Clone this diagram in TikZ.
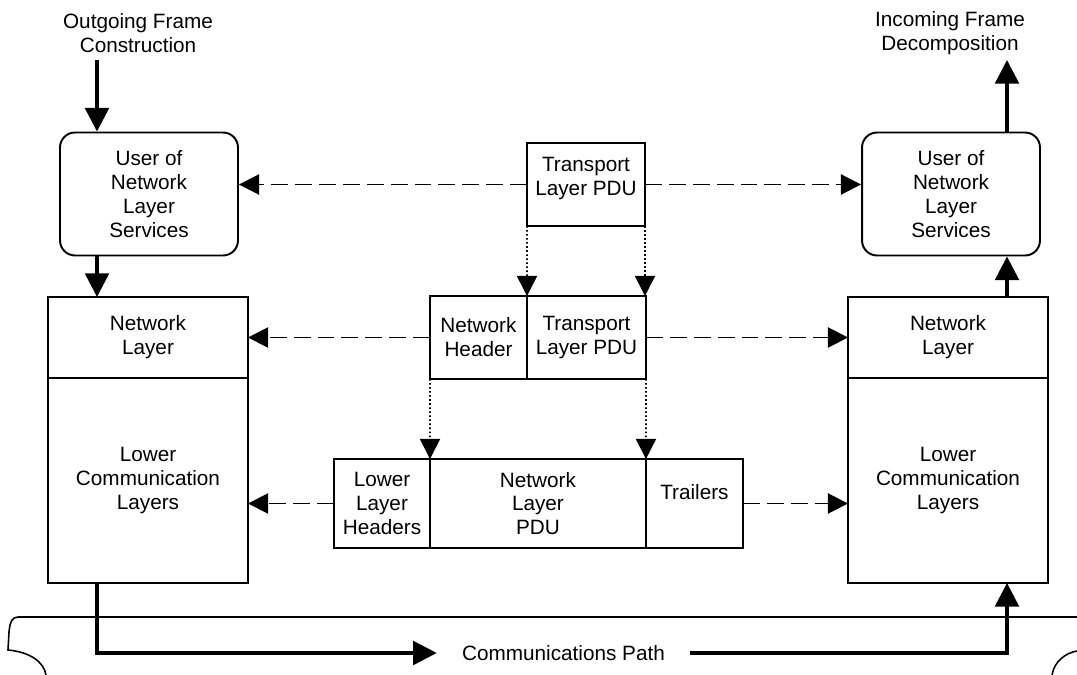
\documentclass[tikz,border=0pt]{standalone}
\usepackage{fontspec}
\setmainfont{Liberation Sans}
\usetikzlibrary{positioning,arrows.meta}
\tikzset{
  userbox/.style   = {rectangle, rounded corners=0.3cm, draw, line width=1.1pt,
                      minimum width=3.56cm, minimum height=2.46cm, align=center},
  layerbox/.style  = {rectangle, draw, line width=1.1pt, outer sep=0pt,
                      minimum width=4cm, align=center},
  pdubox/.style    = {rectangle, draw, line width=1.1pt, outer sep=0pt, inner sep=1pt,
                      minimum height=1.66cm, align=center},
  frmbox/.style    = {pdubox, minimum height=1.78cm},
  bigarrow/.style  = {-{Triangle[length=13.5pt,width=13.5pt]}, line width=2pt},
  dasharrow/.style = {-{Triangle[length=11.5pt,width=11.5pt]}, line width=1.1pt,
                      dash pattern=on 9.6pt off 4pt},
  dotarrow/.style  = {-{Triangle[length=11.5pt,width=11.5pt]}, line width=0.9pt,
                      dash pattern=on 0.9pt off 1.4pt},
  pipeline/.style  = {line width=0.9pt}
}

\begin{document}
\begin{tikzpicture}[x=0.02cm, y=-0.02cm, font=\fontsize{11.8}{13.6}\selectfont]
  \useasboundingbox (0,0) rectangle (1077,675);
  % ---- top labels ----
  \node[align=center] (outtxt) at (138,33)  {Outgoing Frame\\Construction};
  \node[align=center] (intxt)  at (950,33)  {Incoming Frame\\Decomposition};
  \coordinate (txL) at (97,60);
  \coordinate (txR) at (1007,60);
  % ---- sending side ----
  \node[userbox] (userL) at (149,194) {User of\\Network\\Layer\\Services};
  \node[layerbox, minimum height=1.62cm] (netL) at (148,337.5) {Network\\Layer};
  \node[layerbox, minimum height=4.1cm, below=0pt of netL] (lowL) {Lower\\Communication\\Layers};
  % ---- receiving side ----
  \node[userbox] (userR) at (951,194) {User of\\Network\\Layer\\Services};
  \node[layerbox, minimum height=1.62cm] (netR) at (948,337.5) {Network\\Layer};
  \node[layerbox, minimum height=4.1cm, below=0pt of netR] (lowR) {Lower\\Communication\\Layers};
  % ---- PDUs in the middle ----
  \node[pdubox, minimum width=2.36cm] (tpdu) at (586,184.5) {Transport\\Layer PDU\\[-4pt]\mbox{}};
  \node[pdubox, minimum width=1.94cm] (hdr) at (478.5,337.5) {Network\\Header};
  \node[pdubox, minimum width=2.38cm, right=0pt of hdr] (tpdu2) {Transport\\Layer PDU};
  \node[frmbox, minimum width=1.92cm] (llh) at (382,503.5) {Lower\\Layer\\Headers};
  \node[frmbox, minimum width=4.32cm, right=0pt of llh] (nlpdu) {Network\\Layer\\PDU};
  \node[frmbox, minimum width=1.94cm, right=0pt of nlpdu] (trl) {Trailers\\[0pt]\mbox{}};
  % ---- communications path ----
  \draw[pipeline] (1077,617) -- (18,617) .. controls (12,617) and (10,622) .. (9,632)
    -- (8,650) .. controls (30,652) and (44,662) .. (46,675);
  \draw[pipeline] (1052,675) .. controls (1054,662) and (1065,653) .. (1077,651);
  \node[inner xsep=0.5cm, inner ysep=0pt] (comm) at (563.5,653) {Communications Path};
  % ---- solid flow ----
  \draw[bigarrow] (txL) -- (txL |- userL.north);
  \draw[bigarrow] (txL |- userL.south) -- (txL |- netL.north);
  \draw[bigarrow] (txL |- lowL.south) |- (comm.west);
  \draw[bigarrow] (comm.east) -| (txR |- lowR.south);
  \draw[bigarrow] (txR |- netR.north) -- (txR |- userR.south);
  \draw[bigarrow] (txR |- userR.north) -- (txR);
  % ---- peer links ----
  \draw[dasharrow] (tpdu.west) -- (tpdu.west -| userL.east);
  \draw[dasharrow] (tpdu.east) -- (tpdu.east -| userR.west);
  \draw[dasharrow] (hdr.west) -- (hdr.west -| netL.east);
  \draw[dasharrow] (tpdu2.east) -- (tpdu2.east -| netR.west);
  \draw[dasharrow] (llh.west) -- (llh.west -| lowL.east);
  \draw[dasharrow] (trl.east) -- (trl.east -| lowR.west);
  % ---- encapsulation ----
  \draw[dotarrow] (tpdu.south west) -- (tpdu2.north west);
  \draw[dotarrow] (tpdu.south east) -- (tpdu.south east |- tpdu2.north);
  \draw[dotarrow] (hdr.south west) -- (nlpdu.north west);
  \draw[dotarrow] (tpdu2.south east) -- (nlpdu.north east);
\end{tikzpicture}
\end{document}
